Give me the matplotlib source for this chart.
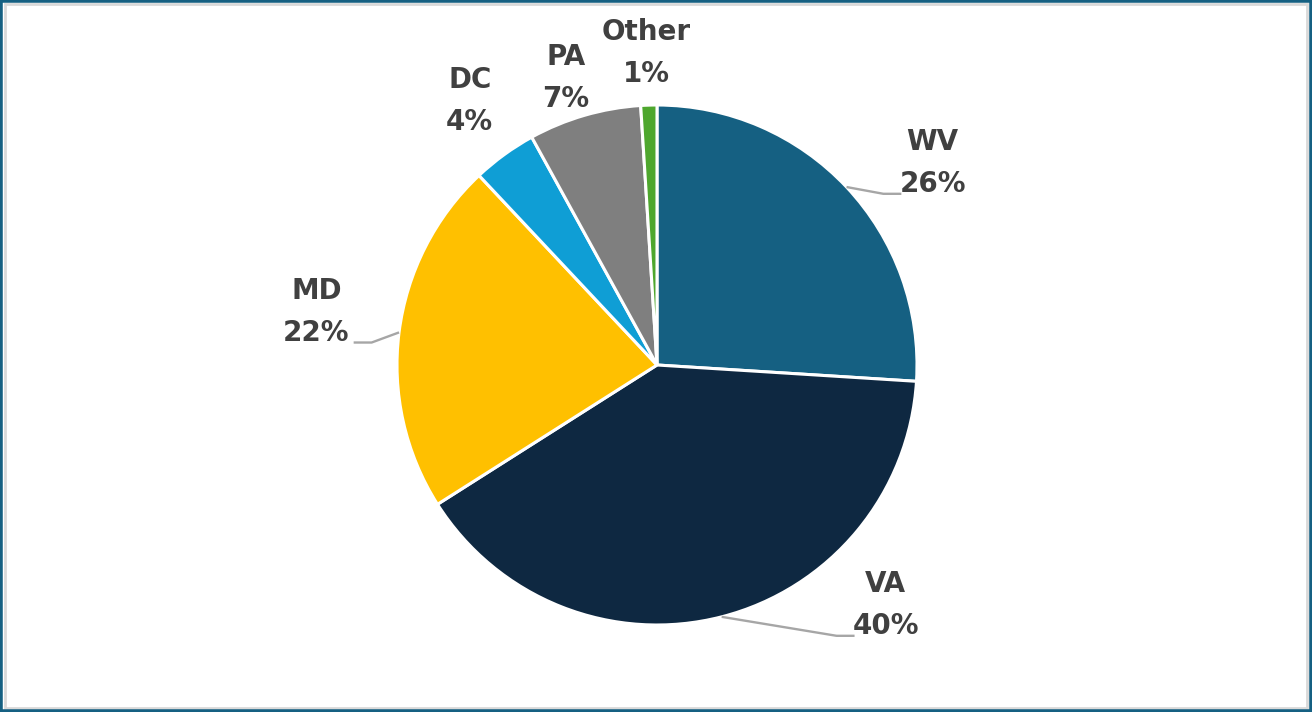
import matplotlib
matplotlib.use("Agg")
import matplotlib.pyplot as plt
from matplotlib.patches import Rectangle
import numpy as np

# share of total by state
states = ["WV", "VA", "MD", "DC", "PA", "Other"]
shares = [26, 40, 22, 4, 7, 1]
colors = ["#156082", "#0E2841", "#FFC000", "#0F9ED5", "#7F7F7F", "#4EA72E"]

# label centres (pie radius = 1) and which labels get a leader line
label_pos = [(1.06, 0.777), (0.88, -0.923), (-1.31, 0.205),
             (-0.72, 1.015), (-0.35, 1.104), (-0.04, 1.20)]
leader = ["left", "left", "right", None, None, None]

fig = plt.figure(figsize=(13.12, 7.12), dpi=100)
ax = fig.add_axes([(657 - 260) / 1312, (712 - 625) / 712, 520 / 1312, 520 / 712])

wedges, _ = ax.pie(shares, colors=colors, startangle=90, counterclock=False,
                   wedgeprops=dict(edgecolor="white", linewidth=2.2))
ax.set_xlim(-1, 1)
ax.set_ylim(-1, 1)
ax.set_aspect("equal")
ax.axis("off")

texts = []
for name, val, (x, y) in zip(states, shares, label_pos):
    t = ax.text(x, y, f"{name}\n{val}%", ha="center", va="center",
                fontsize=20, fontweight="bold", color="#404040",
                linespacing=1.62, family="DejaVu Sans")
    texts.append(t)

fig.canvas.draw()
r = fig.canvas.get_renderer()
to_disp = ax.transData.transform
to_data = ax.transData.inverted().transform

cum = np.cumsum([0] + shares)
total = cum[-1]
for i, side in enumerate(leader):
    if side is None:
        continue
    mid = np.deg2rad(90 - 360 * (cum[i] + cum[i + 1]) / 2 / total)
    sx, sy = to_disp((np.cos(mid), np.sin(mid)))
    bb = texts[i].get_window_extent(renderer=r)
    ly = bb.y0 + 4
    if side == "left":
        ex = bb.x0 + 2
        kx = ex - 18
    else:
        ex = bb.x1 + 4
        kx = ex + 18
    pts = to_data(np.array([[sx, sy], [kx, ly], [ex, ly]]))
    ax.plot(pts[:, 0], pts[:, 1], color="#A6A6A6", lw=1.7,
            solid_capstyle="butt", clip_on=False)

# frame around the chart
fig.patches.append(Rectangle((0.004, 0.006), 0.992, 0.988, transform=fig.transFigure,
                             fill=False, edgecolor="#D9D9D9", lw=2.0))
fig.patches.append(Rectangle((0, 0), 1, 1, transform=fig.transFigure,
                             fill=False, edgecolor="#156082", lw=4.0))

fig.savefig("out.png", dpi=100)
